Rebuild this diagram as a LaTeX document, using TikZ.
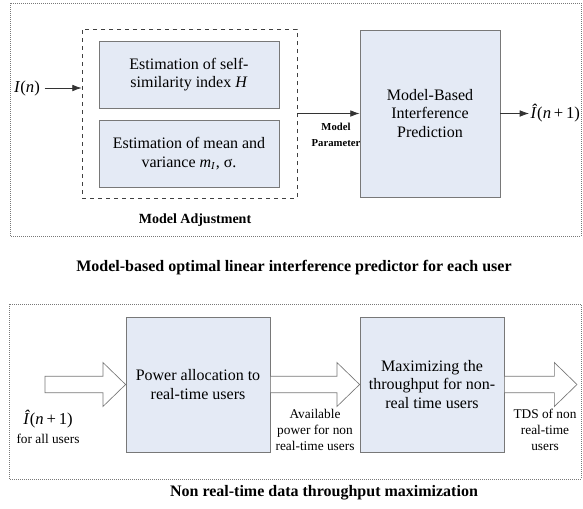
\documentclass[tikz,border=0pt]{standalone}
\usepackage{fontspec}
\setmainfont{Liberation Serif}
\usepackage{tikz}
\usetikzlibrary{arrows.meta, calc}
\definecolor{boxblue}{RGB}{228,234,245}
\definecolor{edgegray}{RGB}{120,120,120}
\tikzstyle{frame} = [draw=edgegray, densely dotted, line width=0.5pt]
\tikzstyle{adjust} = [rectangle, draw=black!75, dashed, line width=0.5pt]
\tikzstyle{process} = [rectangle,
text centered,
align=center,
draw=edgegray,
line width=0.6pt,
fill=boxblue,
font=\fontsize{12}{14}\selectfont]
\tikzstyle{label} = [align=center, font=\fontsize{10}{12}\selectfont, inner sep=0pt]
\tikzstyle{blabel} = [align=center, font=\bfseries\fontsize{8}{11.5}\selectfont, inner sep=0pt]
\tikzstyle{caption} = [font=\bfseries\fontsize{12}{14}\selectfont]
\tikzstyle{arrow} = [line width=0.6pt, -{Latex[length=7pt,width=5pt]}, black!80]
\tikzstyle{blockarr} = [draw=edgegray, fill=white, line width=0.5pt]
% hollow block arrow from (#1) to tip (#2)
\newcommand{\blockarrow}[2]{%
  \draw[blockarr] let \p1=(#1), \p2=(#2) in
    (\x1,\y1+6.2pt) -- (\x2-17pt,\y1+6.2pt) -- (\x2-17pt,\y1+16.5pt) -- (\x2,\y1)
    -- (\x2-17pt,\y1-16.5pt) -- (\x2-17pt,\y1-6.2pt) -- (\x1,\y1-6.2pt) -- cycle;}

\begin{document}
\begin{tikzpicture}[x=0.75pt, y=-0.75pt]
    \useasboundingbox (0,0) rectangle (583,508);

    % predictor part
    \draw[frame] (10,3) rectangle (581,236);
    \node (adjust) [adjust, minimum width=161.25pt, minimum height=126.75pt] at (189.5,113.5) {};
    \node (hurst) [process, minimum width=135pt, minimum height=50.25pt] at (189,74.5) {Estimation of self-\\similarity index \textit{H}};
    \node (mean) [process, minimum width=135pt, minimum height=50.25pt] at (189,153.5) {Estimation of mean and\\variance \textit{m}\textsubscript{\textit{I}}, σ.};
    \node (pred) [process, minimum width=105pt, minimum height=125.25pt] at (430,113.5) {Model-Based\\Interference\\Prediction};
    \node (in) [font=\fontsize{12.5}{14}\selectfont] at (27,88) {\textit{I}(\textit{n})};
    \node (out) [font=\fontsize{12.5}{14}\selectfont, anchor=west, inner sep=1pt] at (529,113.5) {\textit{Î}(\textit{n}\,+\,1)};
    \node (param) [blabel] at (336,135) {Model\\Parameter};
    \node (adjlabel) [blabel, font=\bfseries\fontsize{10.5}{12}\selectfont] at (195,220) {Model Adjustment};
    \node (cap1) [caption] at (294,268) {Model-based optimal linear interference predictor for each user};

    \draw [arrow] (in) -- (in -| adjust.west);
    \draw [arrow] (adjust.east) -- (pred.west);
    \draw [arrow] (pred.east) -- (out.west);

    % throughput part
    \draw[frame] (9,304) rectangle (581,479);
    \node (power) [process, minimum width=108pt, minimum height=101.25pt] at (198,384.5) {Power allocation to\\real-time users};
    \node (maxim) [process, minimum width=108pt, minimum height=101.25pt] at (432,384.5) {Maximizing the\\throughput for non-\\real time users};
    \coordinate (src) at (45,384.5);
    \coordinate (sink) at (577,384.5);
    \blockarrow{src}{power.west}
    \blockarrow{power.east}{maxim.west}
    \blockarrow{maxim.east}{sink}
    \node (inlabel) [label] at (48,427) {\fontsize{12.5}{14}\selectfont\textit{Î}(\textit{n}\,+\,1)\\[2pt]for all users};
    \node (avail) [label] at (315,430) {Available\\power for non\\real-time users};
    \node (tds) [label] at (545,430) {TDS of non\\real-time\\users};
    \node (cap2) [caption] at (324,493) {Non real-time data throughput maximization};
\end{tikzpicture}
\end{document}
